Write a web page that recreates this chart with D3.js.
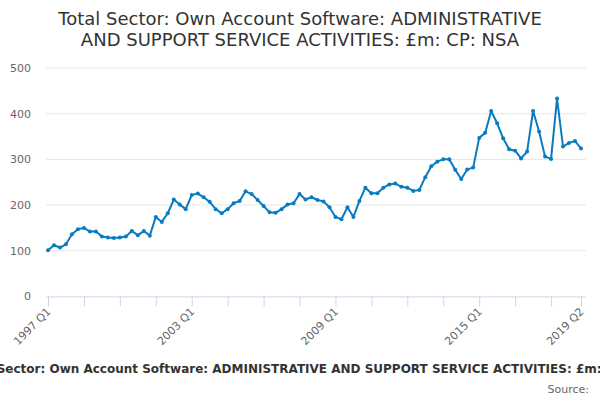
<!DOCTYPE html>
<html>
<head>
<meta charset="utf-8">
<script src="https://d3js.org/d3.v7.min.js"></script>
<style>
  body { margin: 0; background: #fff; }
  svg { font-family: "DejaVu Sans", sans-serif; }
</style>
</head>
<body>
<svg id="chart" width="600" height="400"></svg>
<script>
// quarterly series, 1997 Q1 .. 2019 Q2
var quarters = [];
for (var yr = 1997; yr <= 2019; yr++) {
  for (var q = 1; q <= 4; q++) {
    if (yr == 2019 && q > 2) break;
    quarters.push(yr + ' Q' + q);
  }
}

var values = [
  101, 112, 107, 114, 136, 147, 150, 142, 142, 131, 129, 128,
  129, 131, 143, 134, 143, 133, 174, 163, 182, 212, 201, 191,
  222, 225, 217, 207, 191, 182, 191, 204, 209, 230, 224, 211,
  198, 184, 183, 191, 201, 204, 224, 212, 217, 211, 208, 195,
  174, 169, 195, 174, 209, 238, 226, 226, 238, 245, 247, 240,
  238, 231, 233, 261, 285, 295, 300, 300, 277, 257, 278, 282,
  347, 358, 406, 379, 346, 322, 319, 302, 317, 406, 361, 306,
  301, 433, 328, 336, 340, 324
];

var yTicks = [0, 100, 200, 300, 400, 500];
var tickLabels = ['1997 Q1', '2003 Q1', '2009 Q1', '2015 Q1', '2019 Q2'];

var titleLines = ['Total Sector: Own Account Software: ADMINISTRATIVE',
                  'AND SUPPORT SERVICE ACTIVITIES: £m: CP: NSA'];
var caption = 'Total Sector: Own Account Software: ADMINISTRATIVE AND SUPPORT SERVICE ACTIVITIES: £m: CP: NSA';

var svg = d3.select('#chart');
var plotLeft = 46, plotRight = 586, plotTop = 68, plotBottom = 296.4;

var x = d3.scalePoint().domain(quarters).range([48, 581]);
var y = d3.scaleLinear().domain([0, 500]).range([plotBottom, plotTop]);

// title
svg.append('text')
  .attr('x', 300).attr('y', 25)
  .attr('text-anchor', 'middle')
  .style('font-size', '18px').style('fill', '#333333')
  .selectAll('tspan').data(titleLines).enter().append('tspan')
  .attr('x', 300).attr('dy', function(d, i) { return i ? 21 : 0; })
  .text(function(d) { return d; });

// grid lines + y labels
svg.append('g').selectAll('line').data(yTicks.slice(1)).enter().append('line')
  .attr('x1', plotLeft).attr('x2', plotRight)
  .attr('y1', function(d) { return y(d); }).attr('y2', function(d) { return y(d); })
  .attr('stroke', '#e6e6e6').attr('stroke-width', 1);

svg.append('g').selectAll('text').data(yTicks).enter().append('text')
  .attr('x', 31).attr('y', function(d) { return y(d) + 4; })
  .attr('text-anchor', 'end')
  .style('font-size', '11px').style('fill', '#666666')
  .text(function(d) { return d; });

// x axis
var tickQuarters = quarters.filter(function(d, i) { return i % 6 == 0; });
tickQuarters.push(quarters[quarters.length - 1]);

var xAxis = d3.axisBottom(x)
  .tickValues(tickQuarters)
  .tickSize(10)
  .tickFormat(function(d) { return tickLabels.indexOf(d) >= 0 ? d : ''; });

var gx = svg.append('g')
  .attr('transform', 'translate(0,' + plotBottom + ')')
  .call(xAxis);
gx.select('.domain').attr('d', 'M' + plotLeft + ',0.5H' + plotRight).attr('stroke', '#ccd6eb');
gx.selectAll('.tick line').attr('stroke', '#ccd6eb');
gx.selectAll('.tick text')
  .style('font-size', '11px').style('fill', '#666666')
  .style('font-family', '"DejaVu Sans", sans-serif')
  .attr('text-anchor', 'end')
  .attr('dy', null).attr('y', 0)
  .attr('transform', 'translate(3,16) rotate(-45)');

// line + markers
var line = d3.line()
  .x(function(d, i) { return x(quarters[i]); })
  .y(function(d) { return y(d); });

svg.append('path')
  .datum(values)
  .attr('d', line)
  .attr('fill', 'none')
  .attr('stroke', '#0a7bc1')
  .attr('stroke-width', 2)
  .attr('stroke-linejoin', 'round');

svg.append('g').selectAll('circle').data(values).enter().append('circle')
  .attr('cx', function(d, i) { return x(quarters[i]); })
  .attr('cy', function(d) { return y(d); })
  .attr('r', 2)
  .attr('fill', '#0a7bc1');

// bottom caption and source
svg.append('text')
  .attr('x', 310).attr('y', 373)
  .attr('text-anchor', 'middle')
  .style('font-size', '12px').style('font-weight', 'bold').style('fill', '#333333')
  .text(caption);

svg.append('text')
  .attr('x', 589).attr('y', 393)
  .attr('text-anchor', 'end')
  .style('font-size', '11px').style('fill', '#666666')
  .text('Source:');
</script>
</body>
</html>
